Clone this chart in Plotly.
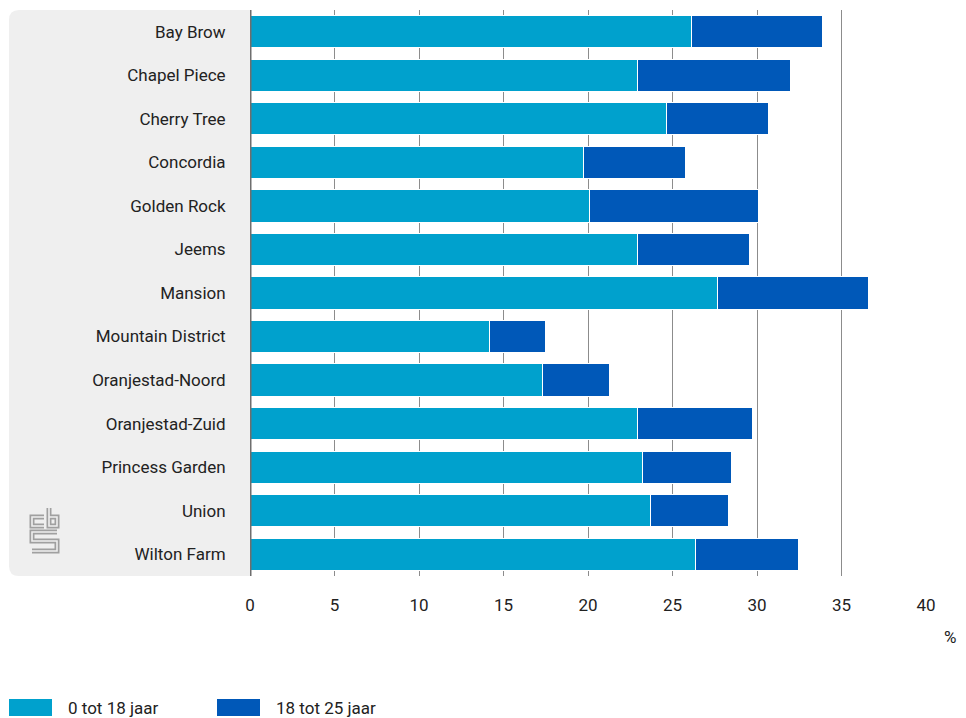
import plotly.graph_objects as go

categories = ["Bay Brow", "Chapel Piece", "Cherry Tree", "Concordia", "Golden Rock", "Jeems",
              "Mansion", "Mountain District", "Oranjestad-Noord", "Oranjestad-Zuid",
              "Princess Garden", "Union", "Wilton Farm"]
age_0_18 = [26.15, 22.9, 24.65, 19.75, 20.1, 22.95, 27.65, 14.15, 17.3, 22.95, 23.2, 23.7, 26.35]
age_18_25 = [7.7, 9.1, 6.05, 6.0, 10.0, 6.6, 8.95, 3.35, 4.0, 6.8, 5.3, 4.6, 6.1]
series_names = ["0 tot 18 jaar", "18 tot 25 jaar"]
series_colors = ["#00a1cd", "#0058b8"]
x_ticks = [0, 5, 10, 15, 20, 25, 30, 35, 40]

FONT = "Liberation Sans Narrow, Roboto, Arial Narrow, sans-serif"
TXT = "#222222"
W, H = 966, 718
L, R, T, B = 250, 926, 10, 576
PW, PH = R - L, B - T


def px(x):
    return (x - L) / PW


def py(y):
    return (B - y) / PH


fig = go.Figure()
for name, vals, col in zip(series_names, [age_0_18, age_18_25], series_colors):
    fig.add_trace(go.Bar(
        y=categories, x=vals, name=name, orientation="h",
        marker=dict(color=col, line=dict(color="white", width=1)),
        showlegend=False, hovertemplate="%{y}: %{x}<extra>" + name + "</extra>",
    ))

shapes = []
# grey label panel with rounded left corners
r = 10
x0, x1 = px(9), 0.0
rx, ry = r / PW, r / PH
path = (f"M {x1},1 L {x0 + rx},1 Q {x0},1 {x0},{1 - ry} "
        f"L {x0},{ry} Q {x0},0 {x0 + rx},0 L {x1},0 Z")
shapes.append(dict(type="path", path=path, xref="paper", yref="paper",
                   fillcolor="#efefef", line=dict(width=0), layer="below"))
# axis line at 0
shapes.append(dict(type="line", xref="x", yref="paper", x0=0, x1=0, y0=0, y1=1,
                   line=dict(color="#6e6e6e", width=3), layer="above"))

# CBS logo (outline strokes)
logo_paths = [
    [(44, 517), (32, 517), (32, 526), (44, 526)],
    [(49, 508), (49, 526), (57, 526), (57, 517), (49, 517)],
    [(57, 532), (32, 532), (32, 541), (57, 541), (57, 551), (32, 551)],
]
for width, color in [(5, "#a0a0a0"), (1.6, "#efefef")]:
    for pts in logo_paths:
        d = "M " + " L ".join(f"{px(a):.5f},{py(b):.5f}" for a, b in pts)
        shapes.append(dict(type="path", path=d, xref="paper", yref="paper",
                           line=dict(color=color, width=width), layer="above"))

# custom legend
annotations = []
leg_x = [9, 217]
for i, (name, col) in enumerate(zip(series_names, series_colors)):
    shapes.append(dict(type="rect", xref="paper", yref="paper",
                       x0=px(leg_x[i]), x1=px(leg_x[i] + 43), y0=py(716), y1=py(699),
                       fillcolor=col, line=dict(width=0)))
    annotations.append(dict(text=name, xref="paper", yref="paper", x=px(leg_x[i] + 57), y=py(707.5),
                            xanchor="left", yanchor="middle", showarrow=False,
                            font=dict(family=FONT, size=17, color=TXT)))
annotations.append(dict(text="%", xref="paper", yref="paper", x=px(958), y=py(637),
                        xanchor="right", yanchor="middle", showarrow=False,
                        font=dict(family=FONT, size=17, color=TXT)))

fig.update_layout(
    width=W, height=H,
    margin=dict(l=L, r=W - R, t=T, b=H - B),
    barmode="stack", bargap=0.26,
    plot_bgcolor="white", paper_bgcolor="white",
    font=dict(family=FONT, size=17, color=TXT),
    shapes=shapes, annotations=annotations,
    xaxis=dict(range=[0, 40], tickvals=x_ticks, showgrid=True, gridcolor="#8c8c8c", gridwidth=1,
               zeroline=False, showline=False, ticks="outside", ticklen=14, tickcolor="rgba(0,0,0,0)",
               tickfont=dict(family=FONT, size=17, color=TXT), fixedrange=True),
    yaxis=dict(autorange="reversed", showgrid=False, zeroline=False, showline=False,
               ticks="outside", ticklen=20, tickcolor="rgba(0,0,0,0)",
               tickfont=dict(family=FONT, size=17, color=TXT), fixedrange=True),
)

fig.write_html("out.html", config={"displayModeBar": False},
               post_script="document.body.style.margin='0';document.body.style.overflow='hidden';")
